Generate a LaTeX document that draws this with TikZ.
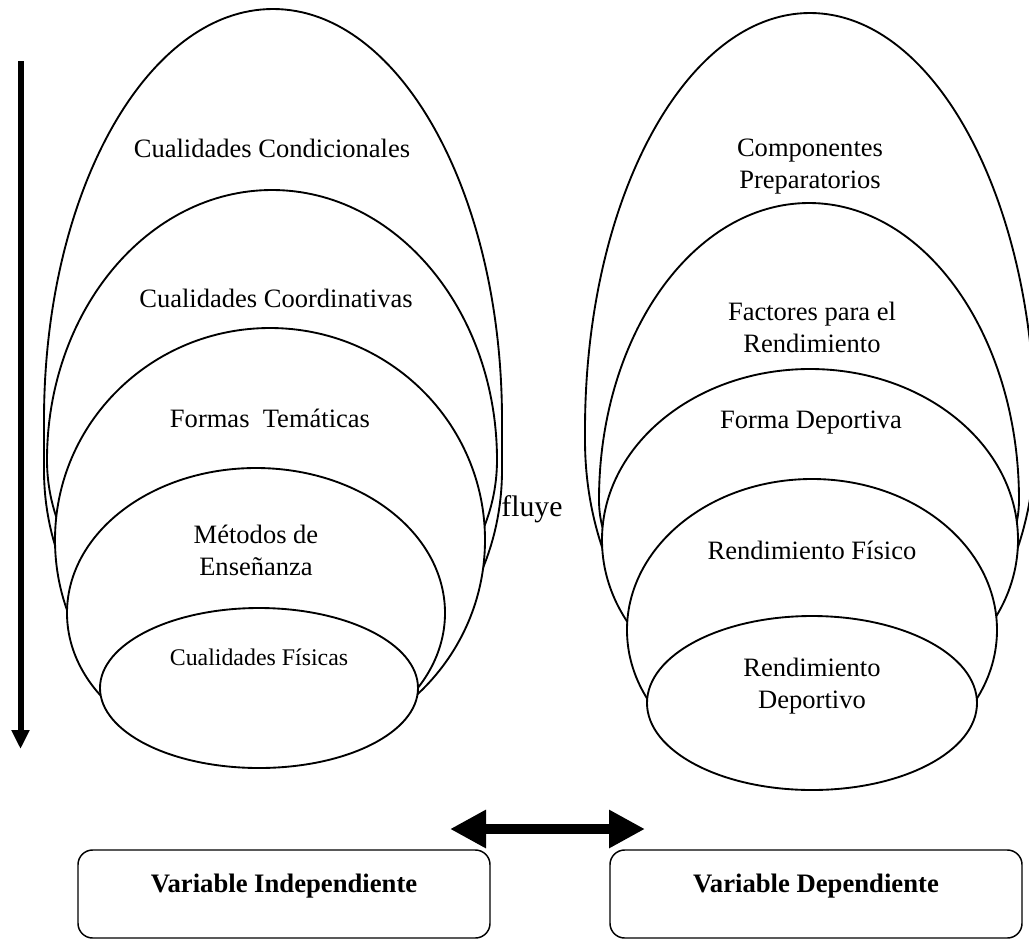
\documentclass[tikz,border=0pt]{standalone}
\usepackage{fontspec}
\setmainfont{Liberation Serif}
\usetikzlibrary{arrows.meta}
\newcommand{\eggshape}[6]{%
  \draw[ell] ({#1+#2},{-#3}) arc[start angle=0,end angle=180,x radius=#2,y radius=#4]
    -- ({#1-#2},{-#5}) arc[start angle=180,end angle=360,x radius=#2,y radius=#6] -- cycle;}
\tikzset{
  ell/.style={draw=black,fill=white,line width=1.4pt},
  lbl/.style={inner sep=0pt,anchor=base,align=center,font=\fontsize{19.9}{23.5}\selectfont},
  small/.style={inner sep=0pt,anchor=base,font=\fontsize{17.9}{21}\selectfont},
  flow/.style={inner sep=0pt,anchor=base,font=\fontsize{22.3}{26}\selectfont},
  varbox/.style={draw=black,line width=1.1pt,rounded corners=11pt,minimum width=309pt,minimum height=66pt,inner sep=0pt},
  vartext/.style={inner sep=0pt,anchor=base,font=\fontsize{20}{24}\selectfont\bfseries},
  thickarrow/.style={line width=4.5pt,-{Triangle[length=14.25pt,width=12.75pt]}},
  dblarrow/.style={line width=7.5pt,{Triangle[length=27pt,width=27pt]}-{Triangle[length=27pt,width=27pt]}}
}
\begin{document}
\begin{tikzpicture}[x=0.75pt,y=0.75pt]
\useasboundingbox (0,0) rectangle (1029,-940);
% left group
\eggshape{273}{229}{420}{411}{470}{245}
\eggshape{272}{225}{460}{270}{460}{200}
\eggshape{270}{215}{540}{212}{540}{212}
\eggshape{256}{189}{613}{145}{613}{145}
\eggshape{259}{159}{688}{80}{688}{80}
% right group
\eggshape{810}{225}{430}{417}{440}{280}
\eggshape{809}{210}{500}{297}{500}{150}
\eggshape{810}{208}{540}{171}{540}{171}
\eggshape{812}{185}{630}{151}{630}{151}
\eggshape{812}{165}{703}{87}{703}{87}
% left labels
\node[lbl] (cc) at (272,-157) {Cualidades Condicionales};
\node[lbl] (co) at (276,-307) {Cualidades Coordinativas};
\node[lbl] (ft) at (270,-427) {Formas\ \ Temáticas};
\node[lbl] (me) at (256,-575) {Métodos de\\Enseñanza};
\node[small] (cf) at (259,-665) {Cualidades Físicas};
% right labels
\node[lbl] (cp) at (810,-188) {Componentes\\Preparatorios};
\node[lbl] (fr) at (812,-352) {Factores para el\\Rendimiento};
\node[lbl] (fd) at (811,-428) {Forma Deportiva};
\node[lbl] (rf) at (812,-559) {Rendimiento Físico};
\node[lbl] (rd) at (812,-708) {Rendimiento\\Deportivo};
% fluye
\node[flow] (fl) at (532,-516) {fluye};
% vertical arrow
\coordinate (vtop) at (20.5,-61);
\coordinate (vbot) at (20.5,-749);
\draw[thickarrow] (vtop) -- (vbot);
% boxes
\node[varbox] (bi) at (284,-894) {};
\node[varbox] (bd) at (816,-894) {};
\node[vartext] (ti) at (284,-892) {Variable Independiente};
\node[vartext] (td) at (816,-892) {Variable Dependiente};
% double arrow
\coordinate (dl) at (450,-829);
\coordinate (dr) at (645,-829);
\draw[dblarrow] (dl) -- (dr);
\end{tikzpicture}
\end{document}
